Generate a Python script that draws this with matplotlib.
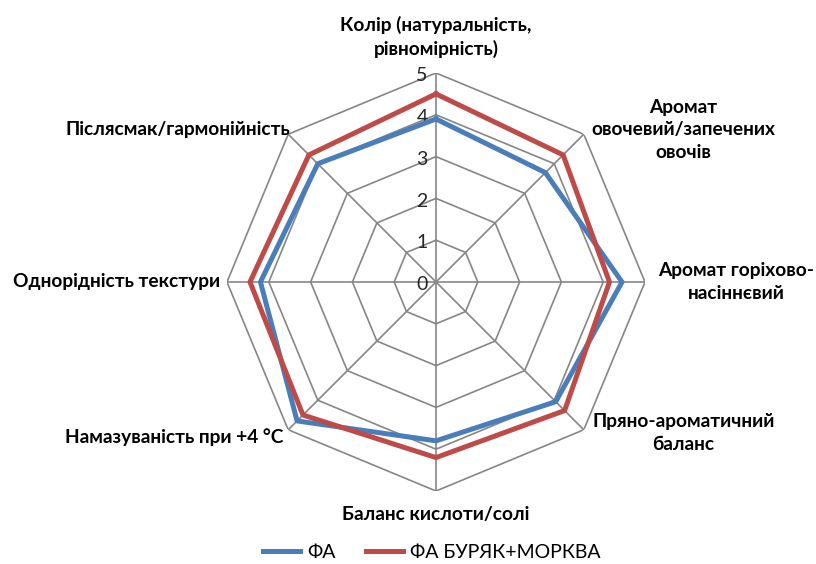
import numpy as np
import matplotlib
matplotlib.use("Agg")
import matplotlib.pyplot as plt

categories = [
    "Колір (натуральність,\nрівномірність)",
    "Аромат\nовочевий/запечених\nовочів",
    "Аромат горіхово-\nнасіннєвий",
    "Пряно-ароматичний\nбаланс",
    "Баланс кислоти/солі",
    "Намазуваність при +4 °C",
    "Однорідність текстури",
    "Післясмак/гармонійність",
]
series_names = ["ФА", "ФА БУРЯК+МОРКВА"]
fa_values = [3.9, 3.7, 4.45, 4.05, 3.8, 4.7, 4.2, 4.0]
fa_beet_values = [4.5, 4.3, 4.15, 4.35, 4.2, 4.5, 4.45, 4.3]
r_ticks = [0, 1, 2, 3, 4, 5]

colors = ["#4A7EBB", "#BE4B48"]
grid_color = "#868686"

plt.rcParams['font.family'] = ['Lato', 'DejaVu Sans']

fig = plt.figure(figsize=(8.16, 5.64), dpi=100)
ax = fig.add_axes([227 / 816, 73 / 564, 418 / 816, 418 / 564], projection='polar')
ax.set_theta_offset(np.pi / 2)
ax.set_theta_direction(-1)
ax.set_ylim(0, 5)
ax.grid(False)
ax.spines['polar'].set_visible(False)
ax.set_xticks([])
ax.set_yticks([])
ax.patch.set_alpha(0)

n = len(categories)
angles = np.linspace(0, 2 * np.pi, n, endpoint=False)
closed = np.concatenate([angles, angles[:1]])

# polygon grid
for r in r_ticks[1:]:
    ax.plot(closed, [r] * (n + 1), color=grid_color, lw=1.2, zorder=1)
for a in angles:
    ax.plot([a, a], [0, 5], color=grid_color, lw=1.2, zorder=1)

# tick labels
for r in r_ticks:
    ax.annotate(str(r), xy=(0, r), xytext=(-6, -2), textcoords='offset points',
                ha='right', va='center', fontsize=14, color='#262626')

# series
for vals, col, name in zip([fa_values, fa_beet_values], colors, series_names):
    ax.plot(closed, list(vals) + [vals[0]], color=col, lw=3.6, label=name, zorder=3)

# category labels (theta in degrees clockwise from top, r in data units, alignment)
label_pos = [
    (0, 5.86, 'center'),
    (58.4, 6.94, 'center'),
    (90, 7.18, 'center'),
    (121.4, 6.93, 'center'),
    (180, 5.57, 'center'),
    (224.6, 5.21, 'right'),
    (270, 5.17, 'right'),
    (316.2, 5.04, 'right'),
]
for cat, (th, rr, ha) in zip(categories, label_pos):
    ax.text(np.deg2rad(th), rr, cat, ha=ha, va='center', multialignment='center',
            fontsize=13.8, fontweight='bold', color='black', linespacing=1.4)

fig.legend(loc='center', bbox_to_anchor=(432 / 816, 0.02), ncol=2, frameon=False,
           fontsize=14, handlelength=1.9, columnspacing=1.6, handletextpad=0.35)

fig.savefig("out.png", dpi=100)
